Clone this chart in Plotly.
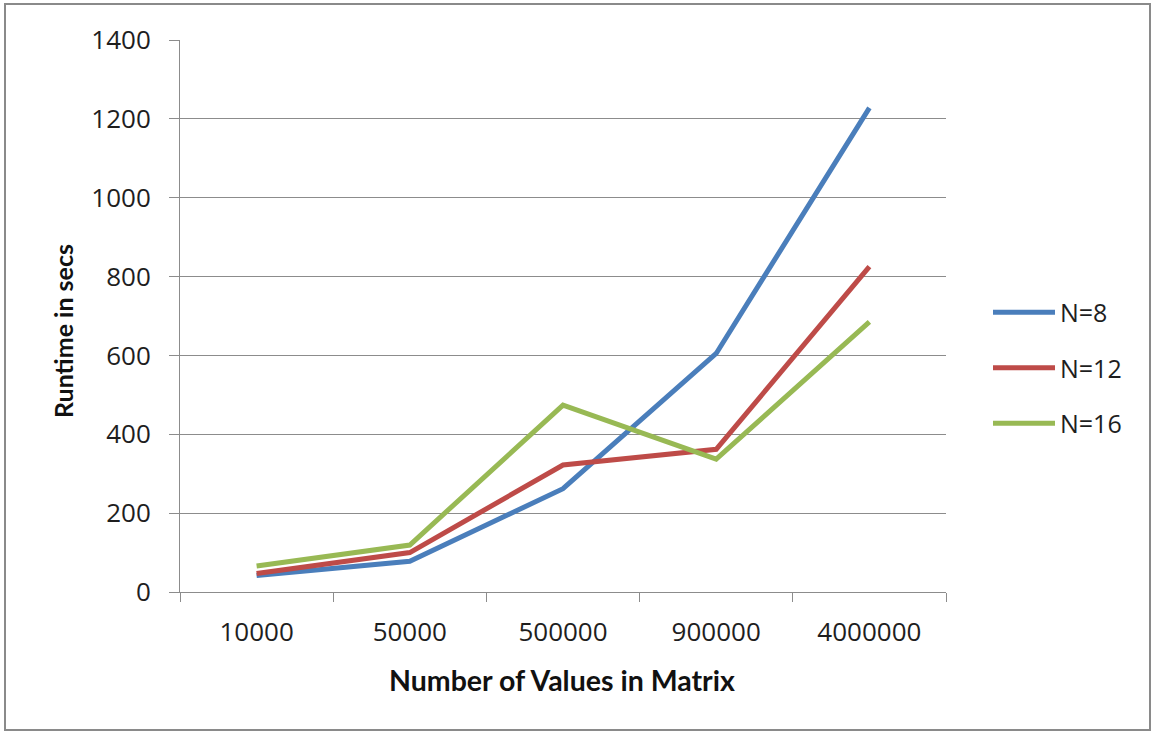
import plotly.graph_objects as go

# Matrix sizes (categorical x axis)
sizes = ["10000", "50000", "500000", "900000", "4000000"]

# Runtime in seconds for each N
runtime_n8 = [42, 78, 262, 605, 1228]
runtime_n12 = [47, 100, 322, 362, 825]
runtime_n16 = [66, 119, 474, 337, 685]

series_names = ["N=8", "N=12", "N=16"]
series_colors = ["#4A7EBB", "#BE4B48", "#98B954"]

y_ticks = [0, 200, 400, 600, 800, 1000, 1200, 1400]

fig = go.Figure()
for name, vals, color in zip(series_names, [runtime_n8, runtime_n12, runtime_n16], series_colors):
    fig.add_trace(go.Scatter(
        x=sizes, y=vals, name=name, mode="lines", legendgroup=name,
        line=dict(color=color, width=5),
    ))

axis_grey = "#8C8C8C"
text_dark = "#1E1E1E"

# plot area in pixels: x 180..946, y 40..592
L, R, T, B = 180, 205, 40, 140
W, H = 1151, 732
pw, ph = W - L - R, H - T - B

def px_x(x):
    return (x - L) / pw

def px_y(y):
    return (H - B - y) / ph

fig.update_layout(
    width=W, height=H,
    margin=dict(l=L, r=R, t=T, b=B),
    paper_bgcolor="white", plot_bgcolor="white",
    showlegend=True,
    legend=dict(
        x=px_x(988), y=px_y(368), xanchor="left", yanchor="middle",
        font=dict(family="Open Sans", size=25, color=text_dark),
        itemwidth=62, tracegroupgap=20, traceorder="grouped",
        bgcolor="rgba(0,0,0,0)",
    ),
    xaxis=dict(
        type="category", range=[-0.5, 4.5],
        showline=True, linecolor=axis_grey, linewidth=1,
        ticks="outside", ticklen=9, tickcolor=axis_grey, tickson="boundaries",
        showgrid=False, ticklabelstandoff=17,
        tickfont=dict(family="Open Sans", size=26, color=text_dark),
    ),
    yaxis=dict(
        range=[0, 1400], tickvals=y_ticks,
        showline=True, linecolor=axis_grey, linewidth=1,
        ticks="outside", ticklen=10, tickcolor=axis_grey,
        showgrid=True, gridcolor=axis_grey, gridwidth=1,
        zeroline=False, ticklabelstandoff=13,
        tickfont=dict(family="Open Sans", size=26, color=text_dark),
    ),
    annotations=[
        dict(text="<b>Number of Values in Matrix</b>", xref="paper", yref="paper",
             x=px_x(562), y=px_y(680), xanchor="center", yanchor="middle", showarrow=False,
             font=dict(family="Lato", size=28.5, color="#111111")),
        dict(text="<b>Runtime in secs</b>", xref="paper", yref="paper",
             x=px_x(63), y=px_y(331), xanchor="center", yanchor="middle", showarrow=False,
             textangle=-90, font=dict(family="Lato", size=25, color="#111111")),
    ],
)

# Outer frame around the chart
fig.add_shape(
    type="rect", xref="paper", yref="paper",
    x0=px_x(5), x1=px_x(1150), y0=px_y(730), y1=px_y(4),
    line=dict(color="#8A8A8A", width=2), fillcolor="rgba(0,0,0,0)",
    layer="below",
)

fig.write_html("out.html")
